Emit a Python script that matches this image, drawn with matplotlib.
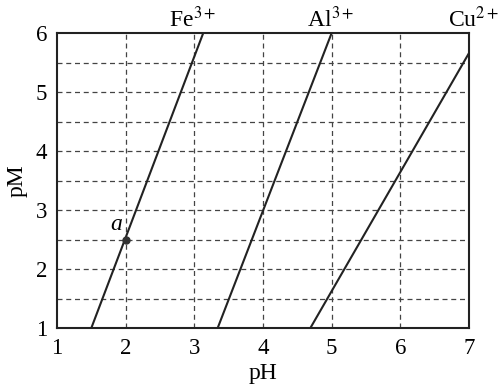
import matplotlib
matplotlib.use("Agg")
import matplotlib.pyplot as plt

# line endpoints (pH, pM)
fe_ph = [1.50, 3.13]
fe_pm = [1.0, 6.0]
al_ph = [3.34, 5.00]
al_pm = [1.0, 6.0]
cu_ph = [4.69, 7.00]
cu_pm = [1.0, 5.66]

point_a = (2.0, 2.5)

x_ticks = [1, 2, 3, 4, 5, 6, 7]
y_ticks = [1, 2, 3, 4, 5, 6]
y_grid = [1.5, 2, 2.5, 3, 3.5, 4, 4.5, 5, 5.5]
x_grid = [2, 3, 4, 5, 6]

labels = ["Fe$^{3+}$", "Al$^{3+}$", "Cu$^{2+}$"]
label_x = [2.97, 4.99, 7.06]

plt.rcParams['font.family'] = ['Liberation Serif', 'DejaVu Serif']
plt.rcParams['mathtext.fontset'] = 'stix'

fig = plt.figure(figsize=(4.99, 3.88), dpi=100)
ax = fig.add_axes([57 / 499, 60 / 388, 412 / 499, 295 / 388])

for x in x_grid:
    ax.axvline(x, color='#444444', lw=0.9, ls=(0, (4, 3)), zorder=1)
for y in y_grid:
    ax.axhline(y, color='#444444', lw=0.9, ls=(0, (4, 3)), zorder=1)

ax.plot(fe_ph, fe_pm, color='#222222', lw=1.5, zorder=3)
ax.plot(al_ph, al_pm, color='#222222', lw=1.5, zorder=3)
ax.plot(cu_ph, cu_pm, color='#222222', lw=1.5, zorder=3)

ax.plot(*point_a, 'o', color='#333333', ms=5, zorder=4)
ax.text(point_a[0] - 0.05, point_a[1] + 0.07, "a", style='italic',
        fontsize=17, ha='right', va='bottom')

for lab, lx in zip(labels, label_x):
    ax.text(lx, 6.1, lab, fontsize=17, ha='center', va='baseline',
            clip_on=False)

ax.set_xlim(1, 7)
ax.set_ylim(1, 6)
ax.set_xticks(x_ticks)
ax.set_yticks(y_ticks)
ax.tick_params(length=0, labelsize=16.5, pad=7)
for s in ax.spines.values():
    s.set_linewidth(1.5)
    s.set_color('#222222')

ax.set_xlabel("pH", fontsize=17, labelpad=3)
ax.set_ylabel("pM", fontsize=17, labelpad=6)

fig.savefig("out.png", dpi=100)
